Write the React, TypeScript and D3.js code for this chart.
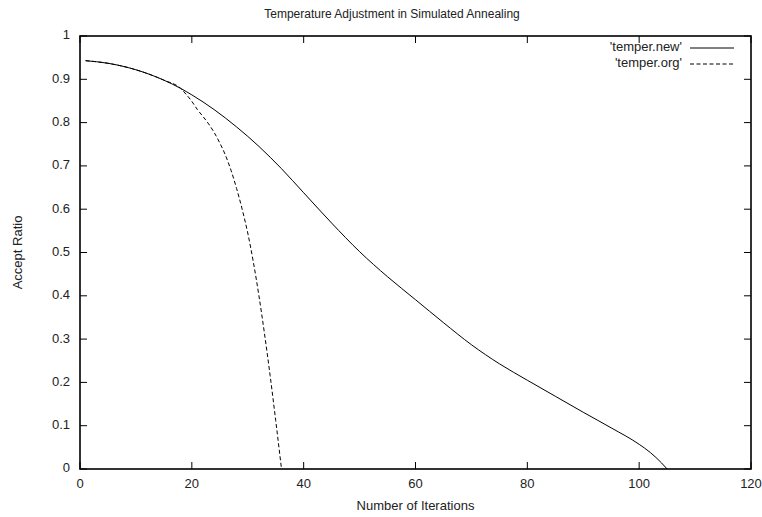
import React, { useRef, useEffect } from 'react'
import * as d3 from 'd3'

// Accept ratio per iteration
const newIters = [1, 5, 10, 15, 18, 20, 24, 28, 32, 36, 40, 45, 50, 55, 60, 65, 70, 75, 80, 85, 90, 95, 100, 102, 104, 105]
const newRatio = [0.943, 0.937, 0.922, 0.898, 0.879, 0.864, 0.83, 0.79, 0.745, 0.694, 0.638, 0.568, 0.502, 0.444, 0.391, 0.338, 0.287, 0.243, 0.205, 0.168, 0.131, 0.095, 0.057, 0.038, 0.014, 0]

const orgIters = [1, 5, 10, 15, 18, 19, 20, 21, 22, 23, 24, 25, 26, 27, 28, 29, 30, 31, 32, 33, 34, 35, 36]
const orgRatio = [0.943, 0.937, 0.922, 0.898, 0.879, 0.865, 0.849, 0.83, 0.814, 0.797, 0.777, 0.753, 0.725, 0.69, 0.648, 0.6, 0.545, 0.478, 0.4, 0.312, 0.216, 0.112, 0.004]

const xTicks = [0, 20, 40, 60, 80, 100, 120]
const yTicks = [0, 0.1, 0.2, 0.3, 0.4, 0.5, 0.6, 0.7, 0.8, 0.9, 1]

const series = [
  { label: "'temper.new'", xs: newIters, ys: newRatio, dash: null as string | null },
  { label: "'temper.org'", xs: orgIters, ys: orgRatio, dash: '4,2.5' },
]

const FONT = "'Liberation Sans', Arial, Helvetica, sans-serif"

export default function App() {
  const svgRef = useRef<SVGSVGElement | null>(null)

  useEffect(() => {
    const W = 762
    const H = 517
    const margin = { top: 36, right: 11, bottom: 48, left: 80 }
    const iW = W - margin.left - margin.right
    const iH = H - margin.top - margin.bottom

    const sel = d3.select(svgRef.current)
    sel.selectAll('*').remove()
    sel.attr('width', W).attr('height', H)

    sel.append('rect').attr('width', W).attr('height', H).attr('fill', '#fff')

    const g = sel.append('g').attr('transform', `translate(${margin.left},${margin.top})`)

    const x = d3.scaleLinear().domain([0, 120]).range([0, iW])
    const y = d3.scaleLinear().domain([0, 1]).range([iH, 0])

    const tick = 7

    // Ticks (inward, mirrored on top/right)
    xTicks.forEach((t) => {
      const px = x(t)
      g.append('line').attr('x1', px).attr('x2', px).attr('y1', iH).attr('y2', iH - tick).attr('stroke', '#000')
      g.append('line').attr('x1', px).attr('x2', px).attr('y1', 0).attr('y2', tick).attr('stroke', '#000')
      g.append('text')
        .attr('x', px)
        .attr('y', iH + 19)
        .attr('text-anchor', 'middle')
        .attr('font-size', '13px')
        .attr('font-family', FONT)
        .attr('fill', '#222')
        .text(t)
    })
    yTicks.forEach((t) => {
      const py = y(t)
      g.append('line').attr('x1', 0).attr('x2', tick).attr('y1', py).attr('y2', py).attr('stroke', '#000')
      g.append('line').attr('x1', iW).attr('x2', iW - tick).attr('y1', py).attr('y2', py).attr('stroke', '#000')
      g.append('text')
        .attr('x', -10)
        .attr('y', py)
        .attr('text-anchor', 'end')
        .attr('dominant-baseline', 'middle')
        .attr('font-size', '13px')
        .attr('font-family', FONT)
        .attr('fill', '#222')
        .text(d3.format('')(t))
    })

    // Border
    g.append('rect')
      .attr('x', 0)
      .attr('y', 0)
      .attr('width', iW)
      .attr('height', iH)
      .attr('fill', 'none')
      .attr('stroke', '#000')
      .attr('stroke-width', 1.6)

    // Curves
    const line = d3.line().curve(d3.curveMonotoneX)
    series.forEach((s) => {
      const pts: [number, number][] = s.xs.map((v, i) => [x(v), y(s.ys[i])])
      const path = g
        .append('path')
        .attr('d', line(pts))
        .attr('fill', 'none')
        .attr('stroke', '#000')
        .attr('stroke-width', 1)
      if (s.dash) path.attr('stroke-dasharray', s.dash)
    })

    // Legend
    series.forEach((s, i) => {
      const ly = 12 + i * 16
      g.append('text')
        .attr('x', iW - 69)
        .attr('y', ly)
        .attr('text-anchor', 'end')
        .attr('dominant-baseline', 'middle')
        .attr('font-size', '13px')
        .attr('font-family', FONT)
        .attr('fill', '#222')
        .text(s.label)
      const l = g
        .append('line')
        .attr('x1', iW - 61)
        .attr('x2', iW - 17)
        .attr('y1', ly)
        .attr('y2', ly)
        .attr('stroke', '#000')
        .attr('stroke-width', 1)
      if (s.dash) l.attr('stroke-dasharray', s.dash)
    })

    // Title and axis labels
    sel.append('text')
      .attr('x', 392)
      .attr('y', 18)
      .attr('text-anchor', 'middle')
      .attr('font-size', '12px')
      .attr('font-family', FONT)
      .attr('fill', '#222')
      .text('Temperature Adjustment in Simulated Annealing')

    sel.append('text')
      .attr('x', margin.left + iW / 2)
      .attr('y', 510)
      .attr('text-anchor', 'middle')
      .attr('font-size', '13px')
      .attr('font-family', FONT)
      .attr('fill', '#222')
      .text('Number of Iterations')

    sel.append('text')
      .attr('transform', `translate(22,${margin.top + iH / 2}) rotate(-90)`)
      .attr('text-anchor', 'middle')
      .attr('font-size', '13px')
      .attr('font-family', FONT)
      .attr('fill', '#222')
      .text('Accept Ratio')
  }, [])

  return (
    <div style={{ position: 'absolute', left: 0, top: 0 }}>
      <svg ref={svgRef} style={{ display: 'block' }} />
    </div>
  )
}
